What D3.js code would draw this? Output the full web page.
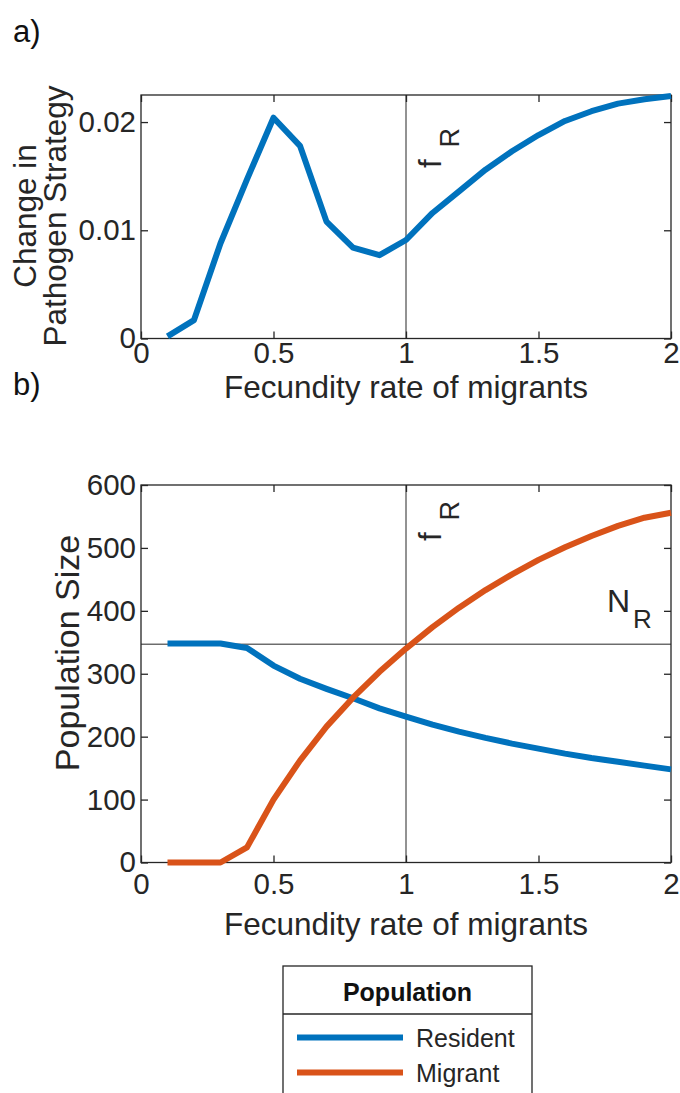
<!DOCTYPE html>
<html>
<head>
<meta charset="utf-8">
<script src="https://cdn.jsdelivr.net/npm/d3@7"></script>
<style>
  html, body { margin: 0; padding: 0; background: #fff; }
  svg { display: block; font-family: "Liberation Sans", Arial, Helvetica, sans-serif; }
</style>
</head>
<body>
<svg id="fig" width="680" height="1093"></svg>
<script>
// Fecundity rate of migrants (shared x values)
const fecundity = [0.1, 0.2, 0.3, 0.4, 0.5, 0.6, 0.7, 0.8, 0.9, 1.0,
                   1.1, 1.2, 1.3, 1.4, 1.5, 1.6, 1.7, 1.8, 1.9, 2.0];
// Panel a: change in pathogen strategy
const strategyChange = [0.0002, 0.0017, 0.0088, 0.0147, 0.0204, 0.0178, 0.0108, 0.0084, 0.0077, 0.0091,
                        0.0116, 0.0136, 0.0156, 0.0173, 0.0188, 0.0201, 0.0210, 0.0217, 0.0221, 0.0224];
// Panel b: equilibrium population sizes
const residentSize = [348, 348, 348, 341, 313, 292, 276, 261, 245, 232,
                      219, 208, 198, 189, 181, 173, 166, 160, 154, 148];
const migrantSize  = [0, 0, 0, 24, 100, 162, 216, 262, 303, 340,
                      374, 405, 433, 458, 481, 501, 519, 535, 548, 556];
const residentFecundity = 1;     // f_R
const residentEquilibrium = 347; // N_R
const xTicks = [0, 0.5, 1, 1.5, 2];
const yTicksA = [0, 0.01, 0.02];
const yTicksB = [0, 100, 200, 300, 400, 500, 600];
const legendTitle = "Population";
const seriesNames = ["Resident", "Migrant"];
const seriesColors = ["#0072BD", "#D95319"];

const svg = d3.select("#fig");
const axisColor = "#262626";
const tickFont = 29.5, labelFont = 31.5;
const X0 = 141, X1 = 671;

function panel(top, bottom, yDomain, yTicks, yFmt, xPad) {
  const x = d3.scaleLinear().domain([0, 2]).range([X0, X1]);
  const y = d3.scaleLinear().domain(yDomain).range([bottom, top]);
  const g = svg.append("g");
  g.append("rect").attr("x", X0).attr("y", top).attr("width", X1 - X0).attr("height", bottom - top)
    .attr("fill", "none").attr("stroke", axisColor).attr("stroke-width", 1.3);
  const tl = 7;
  const axB = g.append("g").attr("transform", `translate(0,${bottom})`)
    .call(d3.axisBottom(x).tickValues(xTicks).tickFormat(d3.format("~g")).tickSizeInner(-tl).tickSizeOuter(0).tickPadding(xPad));
  const axT = g.append("g").attr("transform", `translate(0,${top})`)
    .call(d3.axisTop(x).tickValues(xTicks).tickFormat("").tickSizeInner(-tl).tickSizeOuter(0));
  const axL = g.append("g").attr("transform", `translate(${X0},0)`)
    .call(d3.axisLeft(y).tickValues(yTicks).tickFormat(yFmt).tickSizeInner(-tl).tickSizeOuter(0).tickPadding(5));
  const axR = g.append("g").attr("transform", `translate(${X1},0)`)
    .call(d3.axisRight(y).tickValues(yTicks).tickFormat("").tickSizeInner(-tl).tickSizeOuter(0));
  [axB, axT, axL, axR].forEach(a => {
    a.select(".domain").remove();
    a.selectAll("line").attr("stroke", axisColor).attr("stroke-width", 1.3);
    a.selectAll("text").attr("fill", axisColor).style("font-size", tickFont + "px").style("font-family", null);
  });
  return { g, x, y, top, bottom };
}

function refLines(p, showH) {
  p.g.append("line").attr("x1", p.x(residentFecundity)).attr("x2", p.x(residentFecundity))
    .attr("y1", p.top).attr("y2", p.bottom).attr("stroke", axisColor).attr("stroke-width", 1);
  if (showH) {
    p.g.append("line").attr("x1", X0).attr("x2", X1)
      .attr("y1", p.y(residentEquilibrium)).attr("y2", p.y(residentEquilibrium))
      .attr("stroke", axisColor).attr("stroke-width", 1);
  }
}

function series(p, ys, color) {
  const line = d3.line().x((d, i) => p.x(fecundity[i])).y(d => p.y(d));
  p.g.append("path").datum(ys).attr("d", line).attr("fill", "none")
    .attr("stroke", color).attr("stroke-width", 6).attr("stroke-linejoin", "round");
}

function fLabel(p, yPos) {
  const t = p.g.append("text")
    .attr("transform", `translate(${p.x(residentFecundity) + 35},${yPos}) rotate(-90)`)
    .attr("fill", axisColor).style("font-size", "31px");
  t.append("tspan").text("f");
  t.append("tspan").text("R").attr("dx", 12).attr("dy", 18).style("font-size", "27px");
}

function xLabel(p, baseline) {
  p.g.append("text").attr("x", (X0 + X1) / 2).attr("y", baseline).attr("text-anchor", "middle")
    .attr("fill", axisColor).style("font-size", labelFont + "px").text("Fecundity rate of migrants");
}

// Panel a
const pa = panel(95, 338.5, [0, 0.0225], yTicksA, d3.format("~g"), 4);
refLines(pa, false);
series(pa, strategyChange, seriesColors[0]);
fLabel(pa, 168);
xLabel(pa, 398);
const ya = pa.g.append("text").attr("transform", `translate(0,216) rotate(-90)`)
  .attr("text-anchor", "middle").attr("fill", axisColor).style("font-size", labelFont + "px");
ya.append("tspan").attr("x", 0).attr("y", 36).text("Change in");
ya.append("tspan").attr("x", 0).attr("y", 66).text("Pathogen Strategy");

// Panel b
const pb = panel(485, 862.5, [0, 600], yTicksB, d3.format("d"), 11);
refLines(pb, true);
series(pb, residentSize, seriesColors[0]);
series(pb, migrantSize, seriesColors[1]);
fLabel(pb, 541);
xLabel(pb, 935);
pb.g.append("text").attr("transform", `translate(79,653) rotate(-90)`)
  .attr("text-anchor", "middle").attr("fill", axisColor).style("font-size", "34px").text("Population Size");
const nr = pb.g.append("text").attr("x", 607).attr("y", 612).attr("fill", axisColor).style("font-size", "32px");
nr.append("tspan").text("N");
nr.append("tspan").text("R").attr("dx", 3).attr("dy", 16).style("font-size", "26px");

// Panel tags
svg.append("text").attr("x", 13).attr("y", 42).style("font-size", "31px").attr("fill", "#111").text("a)");
svg.append("text").attr("x", 13).attr("y", 395).style("font-size", "31px").attr("fill", "#111").text("b)");

// Legend
const LX0 = 283, LX1 = 532;
const lg = svg.append("g");
lg.append("rect").attr("x", LX0).attr("y", 966).attr("width", LX1 - LX0).attr("height", 140)
  .attr("fill", "#fff").attr("stroke", axisColor).attr("stroke-width", 1.3);
lg.append("line").attr("x1", LX0).attr("x2", LX1).attr("y1", 1014).attr("y2", 1014)
  .attr("stroke", axisColor).attr("stroke-width", 1.3);
lg.append("text").attr("x", (LX0 + LX1) / 2).attr("y", 1001).attr("text-anchor", "middle")
  .style("font-size", "25px").style("font-weight", "bold").attr("fill", "#111").text(legendTitle);
seriesNames.forEach((name, i) => {
  const yy = 1037.5 + i * 35;
  lg.append("line").attr("x1", 297).attr("x2", 403).attr("y1", yy).attr("y2", yy)
    .attr("stroke", seriesColors[i]).attr("stroke-width", 6);
  lg.append("text").attr("x", 416).attr("y", yy + 9).style("font-size", "25px")
    .attr("fill", axisColor).text(name);
});
</script>
</body>
</html>
